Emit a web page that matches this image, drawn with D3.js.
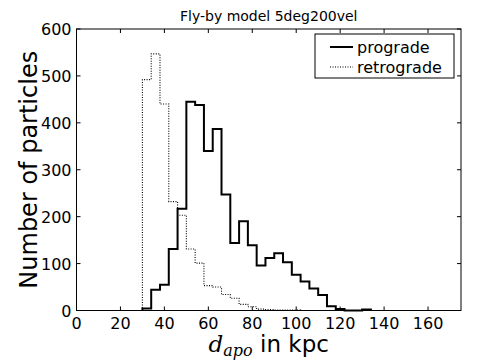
<!DOCTYPE html>
<html>
<head>
<meta charset="utf-8">
<script src="https://cdn.jsdelivr.net/npm/d3@7"></script>
<style>
  html, body { margin: 0; padding: 0; background: #fff; }
  svg { display: block; font-family: "DejaVu Sans", sans-serif; }
</style>
</head>
<body>
<svg id="chart" width="480" height="362"></svg>
<script>
// Histogram bins (kpc): left edges start at 30, each 4 kpc wide
const binStart = 30;
const binWidth = 4;

// Counts per bin
const prograde = [4, 44, 55, 131, 217, 445, 438, 340, 387, 247, 144, 190, 139,
  96, 112, 122, 103, 76, 62, 47, 33, 9, 3, 0, 0, 2];
const retrograde = [492, 547, 440, 232, 203, 131, 101, 53, 50, 34, 26, 13, 8,
  3, 2, 1, 1, 1];

const xTicks = [0, 20, 40, 60, 80, 100, 120, 140, 160];
const yTicks = [0, 100, 200, 300, 400, 500, 600];

const svg = d3.select("#chart");
const margin = { left: 76.5, right: 19, top: 29, bottom: 51.5 };
const width = 480 - margin.left - margin.right;
const height = 362 - margin.top - margin.bottom;

const x = d3.scaleLinear().domain([0, 175]).range([margin.left, margin.left + width]);
const y = d3.scaleLinear().domain([0, 600]).range([margin.top + height, margin.top]);

// step outline like matplotlib histtype="step"
function stepPath(counts) {
  const pts = [[binStart, 0]];
  counts.forEach((c, i) => {
    const x0 = binStart + i * binWidth;
    pts.push([x0, c], [x0 + binWidth, c]);
  });
  pts.push([binStart + counts.length * binWidth, 0]);
  return d3.line().x((d) => x(d[0])).y((d) => y(d[1]))(pts);
}

const g = svg.append("g");

g.append("path")
  .attr("d", stepPath(retrograde))
  .attr("fill", "none")
  .attr("stroke", "#000")
  .attr("stroke-width", 1.1)
  .attr("stroke-dasharray", "1,1.5");

g.append("path")
  .attr("d", stepPath(prograde))
  .attr("fill", "none")
  .attr("stroke", "#000")
  .attr("stroke-width", 2)
  .attr("stroke-linejoin", "miter");

// frame
svg.append("rect")
  .attr("x", margin.left)
  .attr("y", margin.top)
  .attr("width", width)
  .attr("height", height)
  .attr("fill", "none")
  .attr("stroke", "#000")
  .attr("stroke-width", 1);

// inward ticks on all four sides
const tickLen = 4;
const ticks = svg.append("g").attr("stroke", "#000").attr("stroke-width", 1);
xTicks.forEach((t) => {
  ticks.append("line").attr("x1", x(t)).attr("x2", x(t))
    .attr("y1", y(0)).attr("y2", y(0) - tickLen);
  ticks.append("line").attr("x1", x(t)).attr("x2", x(t))
    .attr("y1", y(600)).attr("y2", y(600) + tickLen);
});
yTicks.forEach((t) => {
  ticks.append("line").attr("x1", x(0)).attr("x2", x(0) + tickLen)
    .attr("y1", y(t)).attr("y2", y(t));
  ticks.append("line").attr("x1", x(175)).attr("x2", x(175) - tickLen)
    .attr("y1", y(t)).attr("y2", y(t));
});

// tick labels
svg.append("g")
  .selectAll("text")
  .data(xTicks)
  .join("text")
  .attr("x", (d) => x(d))
  .attr("y", y(0) + 18)
  .attr("text-anchor", "middle")
  .attr("font-size", "16px")
  .text((d) => d);

svg.append("g")
  .selectAll("text")
  .data(yTicks)
  .join("text")
  .attr("x", x(0) - 5)
  .attr("y", (d) => y(d) + 6)
  .attr("text-anchor", "end")
  .attr("font-size", "16px")
  .text((d) => d);

// title
svg.append("text")
  .attr("x", x(175 / 2))
  .attr("y", 21)
  .attr("text-anchor", "middle")
  .attr("font-size", "14px")
  .text("Fly-by model 5deg200vel");

// axis labels
svg.append("text")
  .attr("transform", `translate(37, ${y(300)}) rotate(-90)`)
  .attr("text-anchor", "middle")
  .attr("font-size", "24px")
  .text("Number of particles");

const xl = svg.append("text")
  .attr("x", x(175 / 2))
  .attr("y", 352)
  .attr("text-anchor", "middle")
  .attr("font-size", "23px");
xl.append("tspan")
  .attr("font-family", "DejaVu Serif")
  .attr("font-style", "italic")
  .text("d");
xl.append("tspan")
  .attr("font-family", "DejaVu Serif")
  .attr("font-style", "italic")
  .attr("font-size", "16px")
  .attr("dy", 4)
  .text("apo");
xl.append("tspan")
  .attr("dy", -4)
  .text(" in kpc");

// legend
const legend = svg.append("g").attr("transform", "translate(315, 34)");
legend.append("rect")
  .attr("width", 139)
  .attr("height", 44)
  .attr("fill", "#fff")
  .attr("stroke", "#000")
  .attr("stroke-width", 1);

const legendItems = [
  { name: "prograde", width: 2, dash: null },
  { name: "retrograde", width: 1.1, dash: "1,1.5" }
];
legendItems.forEach((item, i) => {
  const row = legend.append("g").attr("transform", `translate(0, ${13 + i * 20})`);
  row.append("line")
    .attr("x1", 15).attr("x2", 38)
    .attr("stroke", "#000")
    .attr("stroke-width", item.width)
    .attr("stroke-dasharray", item.dash);
  row.append("text")
    .attr("x", 42)
    .attr("y", 6)
    .attr("font-size", "16px")
    .text(item.name);
});
</script>
</body>
</html>
